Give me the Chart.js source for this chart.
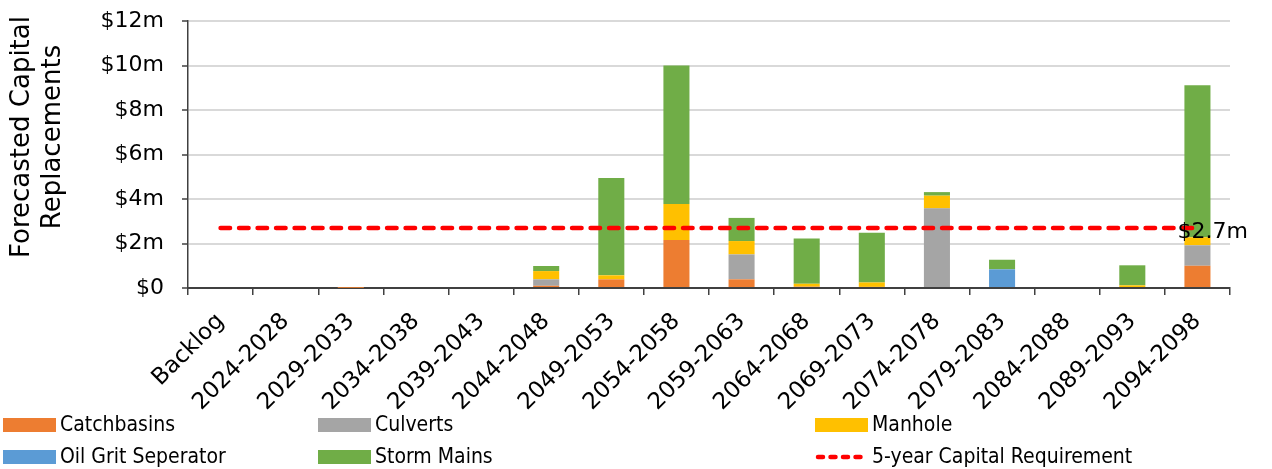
<!DOCTYPE html>
<html>
<head>
<meta charset="utf-8">
<title>Forecasted Capital Replacements</title>
<script src="https://cdn.jsdelivr.net/npm/chart.js@4/dist/chart.umd.min.js"></script>
<style>
  html, body { margin: 0; padding: 0; background: #ffffff; }
  #wrap { width: 1272px; height: 469px; position: relative; }
</style>
</head>
<body>
<div id="wrap"><canvas id="chart" width="1272" height="469"></canvas></div>
<script>
// Five-year periods (values in $ millions)
const categories = ['Backlog', '2024-2028', '2029-2033', '2034-2038', '2039-2043', '2044-2048',
  '2049-2053', '2054-2058', '2059-2063', '2064-2068', '2069-2073', '2074-2078',
  '2079-2083', '2084-2088', '2089-2093', '2094-2098'];

const catchbasins = [0, 0, 0.01, 0, 0, 0.10, 0.39, 2.16, 0.39, 0.06, 0.05, 0, 0, 0, 0, 1.00];
const culverts    = [0, 0, 0, 0, 0, 0.29, 0, 0, 1.12, 0, 0, 3.58, 0, 0, 0, 0.92];
const manhole     = [0, 0, 0.01, 0, 0, 0.37, 0.18, 1.62, 0.60, 0.13, 0.20, 0.57, 0, 0, 0.12, 0.36];
const oilGrit     = [0, 0, 0, 0, 0, 0, 0, 0, 0, 0, 0, 0, 0.84, 0, 0, 0];
const stormMains  = [0, 0, 0, 0, 0, 0.23, 4.37, 6.22, 1.04, 2.03, 2.23, 0.16, 0.43, 0, 0.90, 6.83];

// Average annual requirement over each 5-year period
const capitalRequirement = 2.7;
const requirementLine = categories.map(() => capitalRequirement);

const yTicks = { min: 0, max: 12, step: 2 };
const yTitle = ['Forecasted Capital', 'Replacements'];

const FONT = 'DejaVu Sans';
const TEXT = '#000000';
const AXIS = '#404040';

function moneyLabel(v) {
  return v === 0 ? '$0' : '$' + v + 'm';
}

// Rotated two-line axis title on the left
const yTitlePlugin = {
  id: 'yTitle',
  afterDraw(chart) {
    const ctx = chart.ctx;
    ctx.save();
    ctx.fillStyle = TEXT;
    ctx.font = '26px "' + FONT + '"';
    ctx.textAlign = 'center';
    ctx.textBaseline = 'alphabetic';
    const baselines = [29, 60];
    yTitle.forEach((t, i) => {
      ctx.save();
      ctx.translate(baselines[i], 137);
      ctx.rotate(-Math.PI / 2);
      ctx.fillText(t, 0, 0);
      ctx.restore();
    });
    ctx.restore();
  }
};

// Value label at the end of the requirement line
const requirementLabelPlugin = {
  id: 'reqLabel',
  afterDatasetsDraw(chart) {
    const idx = chart.data.datasets.findIndex(d => d.type === 'line');
    const meta = chart.getDatasetMeta(idx);
    const pts = meta.data;
    const last = pts[pts.length - 1];
    const ctx = chart.ctx;
    ctx.save();
    ctx.fillStyle = TEXT;
    ctx.font = '22px "' + FONT + '"';
    ctx.textAlign = 'left';
    ctx.textBaseline = 'middle';
    ctx.fillText(moneyLabel(chart.data.datasets[idx].data[pts.length - 1]), last.x - 20, last.y + 4);
    ctx.restore();
  }
};

// Three-column legend below the axis labels
const gridLegendPlugin = {
  id: 'gridLegend',
  afterDraw(chart) {
    const ctx = chart.ctx;
    const colX = [3, 318, 815];
    const rowY = [425, 457];
    const boxW = 53, boxH = 14, gap = 57;
    ctx.save();
    ctx.font = '21px "DejaVu Sans Condensed", "' + FONT + '"';
    ctx.textBaseline = 'middle';
    ctx.textAlign = 'left';
    chart.data.datasets.forEach((ds, i) => {
      const x = colX[i % 3];
      const y = rowY[Math.floor(i / 3)];
      if (ds.type === 'line') {
        ctx.strokeStyle = ds.borderColor;
        ctx.lineWidth = 4.5;
        ctx.lineCap = 'round';
        ctx.setLineDash([5, 7.5]);
        ctx.beginPath();
        ctx.moveTo(x + 3, y);
        ctx.lineTo(x + boxW - 2, y);
        ctx.stroke();
        ctx.setLineDash([]);
      } else {
        ctx.fillStyle = ds.backgroundColor;
        ctx.fillRect(x, y - boxH / 2, boxW, boxH);
      }
      ctx.fillStyle = TEXT;
      ctx.fillText(ds.label, x + gap, y + 1);
    });
    ctx.restore();
  }
};

const barCommon = { type: 'bar', stack: 'assets', order: 1, borderWidth: 0, barPercentage: 0.4, categoryPercentage: 1.0 };

new Chart(document.getElementById('chart'), {
  data: {
    labels: categories,
    datasets: [
      Object.assign({ label: 'Catchbasins', data: catchbasins, backgroundColor: '#ED7D31' }, barCommon),
      Object.assign({ label: 'Culverts', data: culverts, backgroundColor: '#A5A5A5' }, barCommon),
      Object.assign({ label: 'Manhole', data: manhole, backgroundColor: '#FFC000' }, barCommon),
      Object.assign({ label: 'Oil Grit Seperator', data: oilGrit, backgroundColor: '#5B9BD5' }, barCommon),
      Object.assign({ label: 'Storm Mains', data: stormMains, backgroundColor: '#70AD47' }, barCommon),
      {
        type: 'line',
        label: '5-year Capital Requirement',
        data: requirementLine,
        stack: 'requirement',
        order: 0,
        borderColor: '#FF0000',
        backgroundColor: '#FF0000',
        borderWidth: 4.5,
        borderDash: [9.5, 9],
        borderCapStyle: 'round',
        pointRadius: 0,
        fill: false,
        tension: 0
      }
    ]
  },
  options: {
    responsive: false,
    animation: false,
    devicePixelRatio: 1,
    layout: { padding: { left: 0, top: 21, right: 42, bottom: 57 } },
    plugins: {
      legend: { display: false },
      tooltip: { enabled: false },
      title: { display: false }
    },
    scales: {
      x: {
        stacked: true,
        offset: true,
        grid: {
          offset: true,
          drawOnChartArea: false,
          drawTicks: true,
          tickLength: 7,
          color: AXIS,
          lineWidth: 1.5
        },
        border: { display: true, color: AXIS, width: 2 },
        ticks: {
          autoSkip: false,
          minRotation: 45,
          maxRotation: 45,
          padding: 13,
          color: TEXT,
          font: { family: FONT, size: 23 }
        },
        afterFit(scale) { scale.height = 124; }
      },
      y: {
        stacked: true,
        min: yTicks.min,
        max: yTicks.max,
        grid: {
          color: '#d9d9d9',
          lineWidth: 2,
          tickColor: AXIS,
          tickLength: 6,
          tickWidth: 1.5
        },
        border: { display: true, color: AXIS, width: 1.5 },
        ticks: {
          stepSize: yTicks.step,
          padding: 18,
          color: TEXT,
          font: { family: FONT, size: 22 },
          callback: v => moneyLabel(v)
        },
        afterFit(scale) {
          scale.width = 188;
          scale.paddingTop = 0;
          scale.paddingBottom = 0;
        }
      }
    }
  },
  plugins: [yTitlePlugin, requirementLabelPlugin, gridLegendPlugin]
});
</script>
</body>
</html>
